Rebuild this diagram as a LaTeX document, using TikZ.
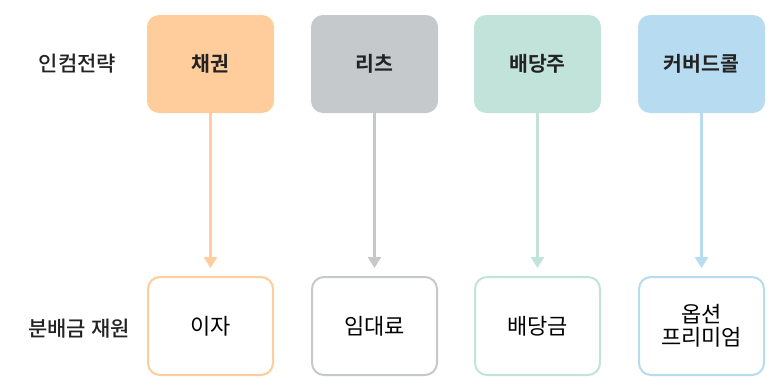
\documentclass[tikz,border=0pt]{standalone}
\usepackage{fontspec}
\setmainfont{Noto Sans CJK KR}
\newfontfamily\krbold{Noto Sans CJK KR Bold}
\newfontfamily\krmed{Noto Sans CJK KR Medium}
\usetikzlibrary{arrows.meta}
\definecolor{corange}{HTML}{FFCC9C}
\definecolor{cgray}{HTML}{C6C9CC}
\definecolor{cmint}{HTML}{C2E3DA}
\definecolor{cblue}{HTML}{B7DBF0}
\definecolor{ctext}{HTML}{222222}
\tikzset{
  topbox/.style={rounded corners=12pt, minimum width=127pt, minimum height=98pt, inner sep=0pt, text=ctext, font=\krbold\fontsize{20.5}{24}\selectfont},
  botbox/.style={draw=#1, line width=2pt, fill=white, rounded corners=12pt, minimum width=125pt, minimum height=98pt, inner sep=0pt, text=black, align=center, font=\fontsize{22}{28}\selectfont},
  flow/.style={draw=#1, line width=2.5pt, -{Triangle[width=13pt,length=11pt]}, shorten >=8pt},
  sidelabel/.style={text=ctext, font=\krmed\fontsize{21}{24}\selectfont, inner sep=0pt}
}
\begin{document}
\begin{tikzpicture}[x=1pt,y=-1pt]
\useasboundingbox (0,0) rectangle (781,391);
\node[sidelabel] (l1) at (77.5,64) {인컴전략};
\node[sidelabel] (l2) at (79,329) {분배금 재원};
\node[topbox, fill=corange] (t1) at (210.5,64) {채권};
\node[topbox, fill=cgray] (t2) at (374.5,64) {리츠};
\node[topbox, fill=cmint] (t3) at (537.5,64) {배당주};
\node[topbox, fill=cblue] (t4) at (701.5,64) {커버드콜};
\node[botbox=corange] (b1) at (210.5,326) {이자};
\node[botbox=cgray] (b2) at (374.5,326) {임대료};
\node[botbox=cmint] (b3) at (537.5,326) {배당금};
\node[botbox=cblue] (b4) at (701.5,326) {옵션\\[-5pt]프리미엄};
\draw[flow=corange] (t1) -- (b1);
\draw[flow=cgray] (t2) -- (b2);
\draw[flow=cmint] (t3) -- (b3);
\draw[flow=cblue] (t4) -- (b4);
\end{tikzpicture}
\end{document}
